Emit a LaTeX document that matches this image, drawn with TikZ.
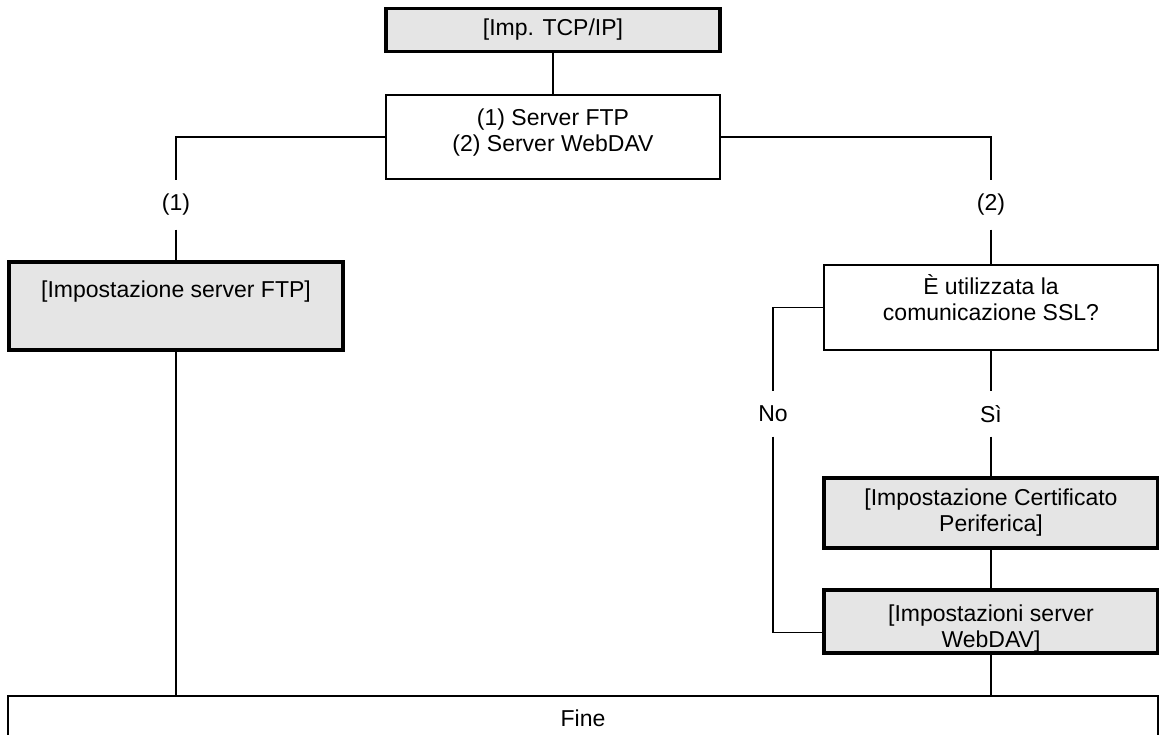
\documentclass[tikz,border=0pt]{standalone}
\usepackage{fontspec}
\setmainfont{Liberation Sans}

\begin{document}
\begin{tikzpicture}[x=1pt,y=-1pt,line width=1.1pt,
	font=\fontsize{23}{26}\selectfont,
	plainbox/.style={draw,align=center,minimum width=334,minimum height=84,inner sep=0},
	setbox/.style={plainbox,fill=black!10,line width=3.4pt},
	lbl/.style={minimum height=48,inner sep=0}]
	\newcommand\colL{176};
	\newcommand\colR{991};

	\useasboundingbox (0,0) rectangle (1159,735);

	\node[setbox,minimum height=43] (tcp) at (553,30) {[Imp. TCP/IP]};
	\node[plainbox,text depth=13pt] (srv) at (553,137) {(1) Server FTP\\(2) Server WebDAV};
	\node[lbl] (l1) at (\colL,205) {(1)};
	\node[lbl] (l2) at (\colR,205) {(2)};
	\node[setbox,minimum height=88] (ftp) at (\colL,306) {[Impostazione server FTP]\\\strut};
	\node[plainbox,minimum height=85,text depth=20pt] (ssl) at (\colR,307.5) {È utilizzata la\\comunicazione SSL?};
	\node[lbl,minimum height=44] (no) at (773,414) {No};
	\node[lbl,minimum height=44] (si) at (\colR,414) {Sì};
	\node[setbox,minimum height=70] (cert) at (\colR,513) {[Impostazione Certificato\\Periferica]};
	\node[setbox,minimum height=63,text height=56pt,text depth=5pt] (dav) at (\colR,621.5) {[Impostazioni server\\WebDAV]};
	\node[plainbox,minimum width=1150,minimum height=44] (fine) at (583,718) {Fine};

	\draw (tcp) -- (srv);
	\draw (srv.west) -| (l1.north);
	\draw (l1.south) -- (ftp.north);
	\draw (srv.east) -| (l2.north);
	\draw (l2.south) -- (ssl.north);
	\draw (ftp.south) -- (ftp.south |- fine.north);

	\draw (ssl.west) -| (no.north);
	\draw (no.south) |- ([yshift=-11pt]dav.west);
	\draw (ssl.south) -- (si.north);
	\draw (si.south) -- (cert.north);
	\draw (cert) -- (dav);
	\draw (dav.south) -- (dav.south |- fine.north);
\end{tikzpicture}
\end{document}
